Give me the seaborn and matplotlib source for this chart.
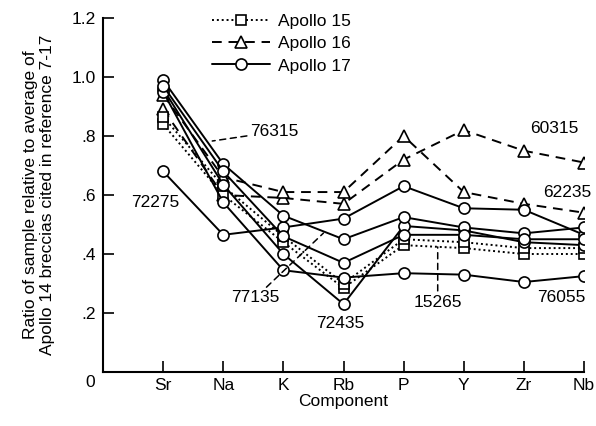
import matplotlib
matplotlib.use("Agg")
import matplotlib.pyplot as plt
from matplotlib.lines import Line2D
import seaborn as sns
import pandas as pd

components = ["Sr", "Na", "K", "Rb", "P", "Y", "Zr", "Nb"]

# Apollo 15 samples (squares, dotted)
a15_15265 = [0.84, 0.60, 0.44, 0.285, 0.43, 0.42, 0.40, 0.40]
a15_other = [0.865, 0.63, 0.46, 0.30, 0.45, 0.44, 0.42, 0.42]
# Apollo 16 samples (triangles, dashed)
a16_60315 = [0.89, 0.60, 0.59, 0.57, 0.72, 0.82, 0.75, 0.71]
a16_62235 = [0.94, 0.66, 0.61, 0.61, 0.80, 0.61, 0.57, 0.54]
# Apollo 17 samples (circles, solid)
a17_76315 = [0.99, 0.705, 0.53, 0.45, 0.525, 0.49, 0.47, 0.49]
a17_72275 = [0.68, 0.465, 0.49, 0.52, 0.63, 0.555, 0.55, 0.465]
a17_77135 = [0.97, 0.68, 0.46, 0.37, 0.465, 0.465, 0.45, 0.45]
a17_72435 = [0.96, 0.635, 0.40, 0.23, 0.495, 0.48, 0.44, 0.43]
a17_76055 = [0.95, 0.575, 0.345, 0.32, 0.335, 0.33, 0.305, 0.325]

missions = {
    "Apollo 15": {"15265": a15_15265, "15xxx": a15_other},
    "Apollo 16": {"60315": a16_60315, "62235": a16_62235},
    "Apollo 17": {"76315": a17_76315, "72275": a17_72275, "77135": a17_77135,
                  "72435": a17_72435, "76055": a17_76055},
}

rows = []
for m, samples in missions.items():
    for s, vals in samples.items():
        for c, v in zip(components, vals):
            rows.append({"mission": m, "sample": s, "component": c, "ratio": v})
df = pd.DataFrame(rows)

sns.set_style("ticks")
plt.rcParams["font.family"] = ["Liberation Sans", "DejaVu Sans"]
for k in ["text.color", "axes.labelcolor", "xtick.color", "ytick.color", "axes.edgecolor"]:
    plt.rcParams[k] = "black"

styles = {
    "Apollo 15": dict(linestyle=(0, (1, 1.5)), marker="s", markersize=7.5),
    "Apollo 16": dict(linestyle=(0, (5, 3.5)), marker="^", markersize=9),
    "Apollo 17": dict(linestyle="-", marker="o", markersize=8),
}

fig = plt.figure(figsize=(5.96, 4.26), dpi=100)
ax = fig.add_axes([103 / 596, 1 - 372 / 426, 481 / 596, 354 / 426])

for m in ["Apollo 16", "Apollo 15", "Apollo 17"]:
    st = styles[m]
    sns.lineplot(data=df[df["mission"] == m], x="component", y="ratio",
                 units="sample", estimator=None, sort=False, ax=ax,
                 color="black", linewidth=1.4, linestyle=st["linestyle"],
                 marker=st["marker"], markersize=st["markersize"],
                 markerfacecolor="white", markeredgecolor="black",
                 markeredgewidth=1.2)

FS = 12.5
ax.set_xlim(-1, 7)
ax.set_ylim(0, 1.2)
ax.set_xticks(range(len(components)))
ax.set_xticklabels(components)
yt = [0.2, 0.4, 0.6, 0.8, 1.0, 1.2]
ax.set_yticks(yt)
ax.set_yticklabels([".2", ".4", ".6", ".8", "1.0", "1.2"])
ax.tick_params(axis="both", direction="in", length=8, width=1.2,
               labelsize=FS, colors="black")
ax.tick_params(axis="y", pad=5)
ax.tick_params(axis="x", pad=4)
for sp in ["top", "right"]:
    ax.spines[sp].set_visible(False)
for sp in ["left", "bottom"]:
    ax.spines[sp].set_linewidth(1.5)
    ax.spines[sp].set_color("black")

ax.set_xlabel("Component", fontsize=FS, labelpad=1)
ax.set_ylabel("Ratio of sample relative to average of\nApollo 14 breccias cited in reference 7-17",
              fontsize=FS, labelpad=12)
ax.text(-1.22, -0.037, "0", fontsize=FS, ha="center", va="center", clip_on=False)

lab_kw = dict(fontsize=FS, ha="center", va="center")
leader = dict(arrowstyle="-", linestyle=(0, (4, 3)), color="black", lw=1.1,
              shrinkA=0, shrinkB=0)
ax.annotate("76315", xy=(0.817, 0.783), xytext=(1.85, 0.814), arrowprops=leader, **lab_kw)
ax.text(-0.13, 0.576, "72275", **lab_kw)
ax.annotate("77135", xy=(2.667, 0.471), xytext=(1.53, 0.251), arrowprops=leader, **lab_kw)
ax.text(2.95, 0.166, "72435", **lab_kw)
ax.annotate("", xy=(4.567, 0.424), xytext=(4.567, 0.275), arrowprops=leader)
ax.text(4.567, 0.234, "15265", **lab_kw)
ax.text(6.617, 0.251, "76055", **lab_kw)
ax.text(6.5, 0.827, "60315", **lab_kw)
ax.text(6.72, 0.61, "62235", **lab_kw)

handles = []
for m in ["Apollo 15", "Apollo 16", "Apollo 17"]:
    st = styles[m]
    handles.append(Line2D([], [], color="black", lw=1.4, linestyle=st["linestyle"],
                          marker=st["marker"], markersize=st["markersize"],
                          markerfacecolor="white", markeredgecolor="black",
                          markeredgewidth=1.2))
leg = fig.legend(handles, ["Apollo 15", "Apollo 16", "Apollo 17"],
                 loc="upper left", bbox_to_anchor=(200 / 596, 1 - 2 / 426),
                 frameon=False, fontsize=FS, handlelength=3.35, handletextpad=0.45,
                 labelspacing=0.4, numpoints=1, borderpad=0.2)

fig.savefig("out.png", dpi=100, facecolor="white")
